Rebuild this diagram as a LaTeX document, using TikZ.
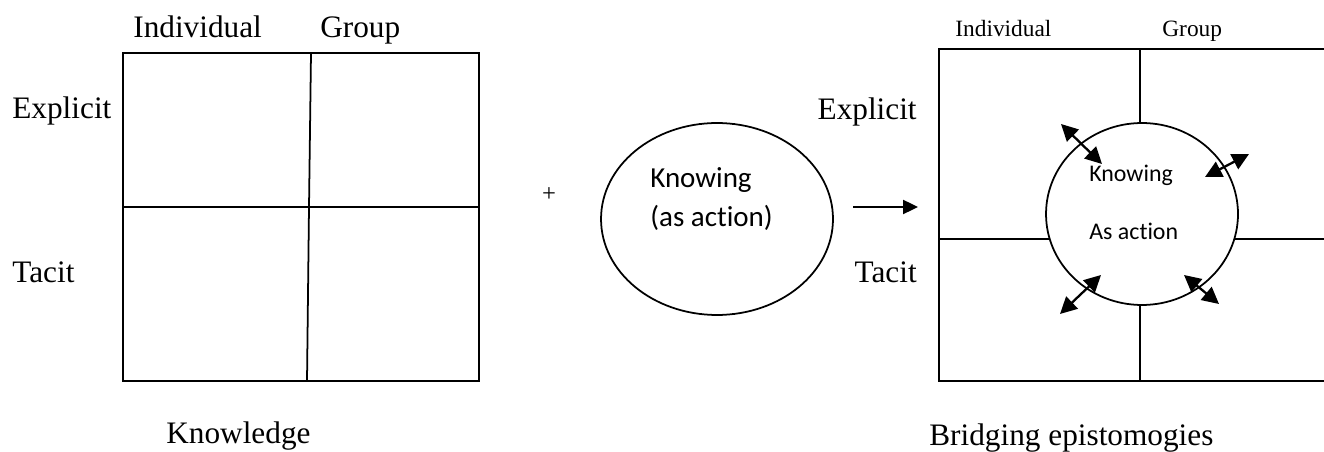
\documentclass[tikz,border=0pt]{standalone}
\usepackage{fontspec}
\setmainfont{Liberation Serif}
\newfontfamily\calibri[Ligatures=NoCommon]{Carlito}
\usetikzlibrary{shapes.geometric,arrows.meta}
\begin{document}
\begin{tikzpicture}[
    x=0.02cm, y=-0.02cm,
    grid/.style={draw=black, line width=1pt},
    label/.style={inner sep=0pt, font=\fontsize{17.8}{20}\selectfont},
    small/.style={inner sep=0pt, font=\fontsize{13.3}{16}\selectfont},
    sans/.style={inner sep=0pt, anchor=base west, font=\calibri\fontsize{#1}{20}\selectfont},
    bubble/.style={ellipse, draw=black, line width=1pt, inner sep=0pt},
    arrow/.style={-{Triangle[length=8.5pt,width=8pt]}, line width=1.1pt},
    twoway/.style={{Triangle[length=9.5pt,width=9.5pt]}-{Triangle[length=9.5pt,width=9.5pt]}, line width=1.3pt}
]
\useasboundingbox (0,0) rectangle (1324,452);

% knowledge grid
\draw[grid] (123,53) rectangle (479,381);
\draw[grid] (123,207) -- (479,207);
\draw[grid] (311,53) -- (309,207) -- (307,381);

\node[label, anchor=base west] (indiv) at (133,38) {Individual};
\node[label, anchor=base west] (group) at (320,38) {Group};
\node[label, anchor=base west] (expl) at (12,119) {Explicit};
\node[label, anchor=base west] (tacit) at (12,283) {Tacit};
\node[label, anchor=base west] (know) at (166,443) {Knowledge};

\node[inner sep=0pt, font=\fontsize{14}{16}\selectfont] (plus) at (549,195) {+};

% knowing as action
\node[bubble, minimum width=4.64cm, minimum height=3.84cm] (act) at (717,219) {};
\node[sans=16.5] (actA) at (650,188) {Knowing};
\node[sans=16.5] (actB) at (650,227) {(as action)};

\coordinate (from) at (853,207);
\coordinate (to) at (918,207);
\draw[arrow] (from) -- (to);

% bridging grid
\node[bubble, minimum width=3.84cm, minimum height=3.64cm] (bridge) at (1142,214) {};
\draw[grid] (939,49) rectangle (1340,381);
\draw[grid] (1140,49) -- (1140,123);
\draw[grid] (1140,305) -- (1140,381);
\draw[grid] (939,239) -- (bridge.195);
\draw[grid] (bridge.-15) -- (1340,239);

\node[sans=13.6] (brA) at (1089,182) {Knowing};
\node[sans=13.6] (brB) at (1089,240) {As action};

\node[small, anchor=base west] (rindiv) at (955,37) {Individual};
\node[small, anchor=base west] (rgroup) at (1162,37) {Group};
\node[label, anchor=base east] (rexpl) at (917,120) {Explicit};
\node[label, anchor=base east] (rtacit) at (917,283) {Tacit};
\node[label, anchor=base west] (bridging) at (929,445) {Bridging epistomogies};

\foreach \ax/\ay/\bx/\by [count=\i] in {1061/124/1102/164, 1205/177/1249/154, 1060/314/1101/275, 1184/275/1219/304}{
  \coordinate (s\i) at (\ax,\ay);
  \coordinate (t\i) at (\bx,\by);
  \draw[twoway] (s\i) -- (t\i);
}

\end{tikzpicture}
\end{document}
